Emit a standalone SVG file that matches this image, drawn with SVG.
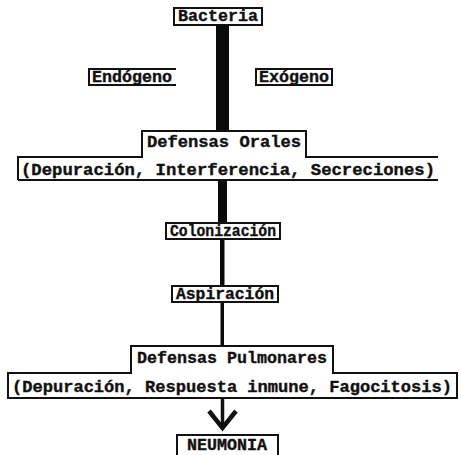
<svg xmlns="http://www.w3.org/2000/svg" width="461" height="455" viewBox="0 0 461 455">
<style>
.t{font-family:"Liberation Mono","Courier New",monospace;font-weight:bold;font-size:17px;fill:#111;text-anchor:middle;stroke:#111;stroke-width:0.4}
.b{fill:none;stroke:#111;stroke-width:2}
.bar{fill:#0a0a0a}
</style>
<rect width="461" height="455" fill="#fff"/>
<g id="connectors">
<rect class="bar" x="216" y="25" width="13" height="106"/>
<rect class="bar" x="218" y="181" width="9" height="42"/>
<rect class="bar" x="220" y="238" width="4.5" height="48"/>
<rect class="bar" x="220.5" y="302" width="3.5" height="44"/>
<line x1="222.5" y1="398" x2="222.5" y2="427" stroke="#111" stroke-width="3.5"/>
<path d="M209,411 L222.5,428 L236,411" fill="none" stroke="#111" stroke-width="4.5" stroke-linejoin="miter"/>
</g>
<g id="bacteria">
<rect class="b" x="174" y="8" width="88" height="17"/>
<text class="t" x="218" y="21" textLength="80" lengthAdjust="spacingAndGlyphs">Bacteria</text>
</g>
<g id="endogeno">
<path class="b" d="M176,69 H89 V85 H176"/>
<text class="t" x="132" y="82" textLength="80" lengthAdjust="spacingAndGlyphs">Endógeno</text>
</g>
<g id="exogeno">
<rect class="b" x="256" y="69" width="76" height="16"/>
<text class="t" x="294" y="82" textLength="70" lengthAdjust="spacingAndGlyphs">Exógeno</text>
</g>
<g id="defensas-orales">
<path class="b" d="M18,180 V157 H142 V131 H306 V157 H438"/>
<line class="b" x1="18" y1="180" x2="438" y2="180"/>
<text class="t" x="224" y="147" textLength="154" lengthAdjust="spacingAndGlyphs">Defensas Orales</text>
<text class="t" x="228" y="175" textLength="414" lengthAdjust="spacingAndGlyphs">(Depuración, Interferencia, Secreciones)</text>
</g>
<g id="colonizacion">
<rect class="b" x="166" y="223" width="114" height="16"/>
<text class="t" x="223" y="236" textLength="106" lengthAdjust="spacingAndGlyphs">Colonización</text>
</g>
<g id="aspiracion">
<rect class="b" x="172" y="286" width="106" height="16"/>
<text class="t" x="225" y="299" textLength="98" lengthAdjust="spacingAndGlyphs">Aspiración</text>
</g>
<g id="defensas-pulmonares">
<path class="b" d="M8,398 V373 H131 V346 H333 V373 H457 V398 Z"/>
<text class="t" x="232" y="363" textLength="190" lengthAdjust="spacingAndGlyphs">Defensas Pulmonares</text>
<text class="t" x="232" y="392" textLength="440" lengthAdjust="spacingAndGlyphs">(Depuración, Respuesta inmune, Fagocitosis)</text>
</g>
<g id="neumonia">
<path class="b" d="M177,455 V435 H278 V455"/>
<text class="t" x="227" y="450" textLength="80" lengthAdjust="spacingAndGlyphs">NEUMONIA</text>
</g>
</svg>
